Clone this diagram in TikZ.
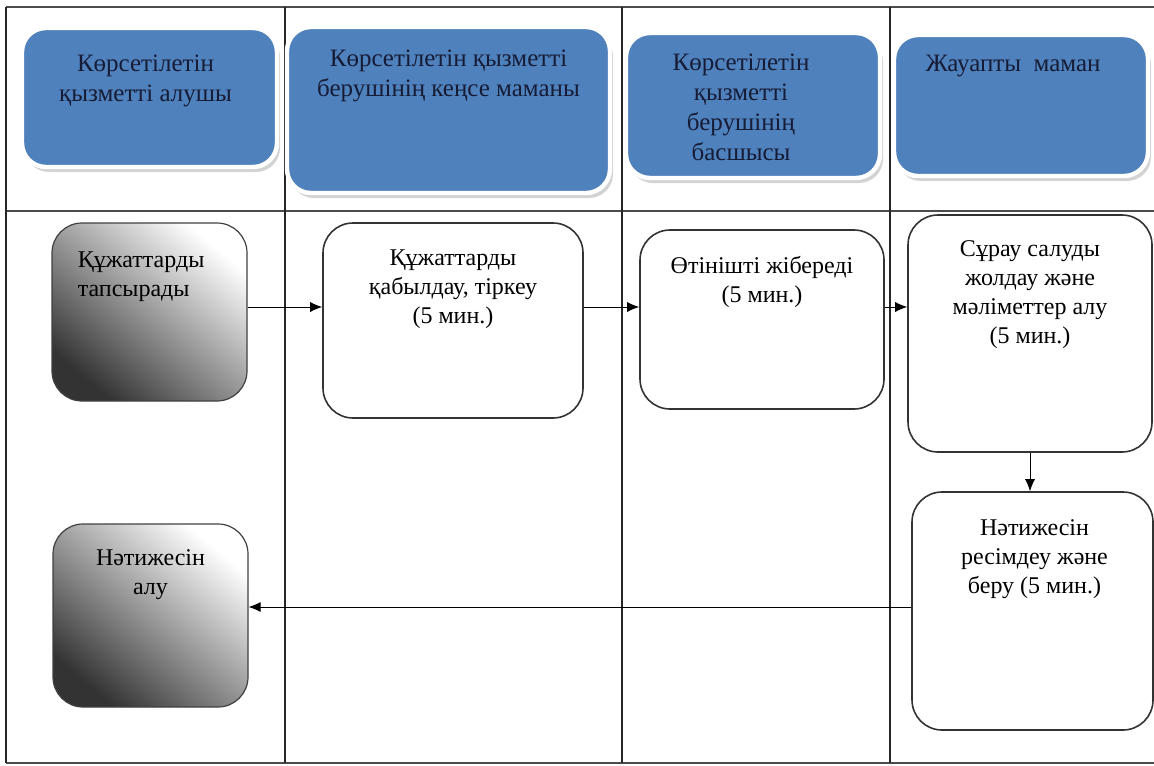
\documentclass[tikz,border=0pt]{standalone}
\usepackage{fontspec}
\setmainfont{Liberation Serif}
\usetikzlibrary{positioning, arrows.meta, shadows}

\definecolor{hblue}{RGB}{79,129,189}
\definecolor{hink}{RGB}{22,28,54}

\tikzset{
	hdr/.style={rounded corners=12pt, fill=hblue, draw=white, line width=2.2pt,
		drop shadow={shadow xshift=1.5pt, shadow yshift=-2.5pt, opacity=0.35}},
	htxt/.style={align=center, inner sep=0pt, text=hink, font=\fontsize{12.5}{15}\selectfont},
	pbox/.style={draw=black!80, line width=0.8pt, rounded corners=15pt, fill=white},
	gbox/.style={draw=black!75, line width=0.6pt, rounded corners=15pt,
		top color=white, bottom color=black!80, shading angle=-40},
	btxt/.style={align=center, inner sep=0pt},
	lane/.style={line width=0.8pt, black!85}
}

\begin{document}
\begin{tikzpicture}[x=0.5pt,y=-0.5pt,>={Latex[length=6pt,width=5pt]},
		font=\fontsize{12}{14.5}\selectfont]
			\useasboundingbox (0,0) rectangle (1154,765);
			% swimlanes
			\draw[lane, line width=1pt, black!70] (6,7) -- (1154,7) (6,211) -- (1154,211) (6,763) -- (1154,763);
			\draw[lane] (6,7) -- (6,763) (285,7) -- (285,763) (622,7) -- (622,763) (890,7) -- (890,763);
			% lane heads
			\node[hdr, minimum width=127.5pt, minimum height=69.5pt] (h1) at (149.5,97.5) {};
			\node[hdr, minimum width=161.5pt, minimum height=83pt]   (h2) at (448.5,110)  {};
			\node[hdr, minimum width=127pt,   minimum height=72.5pt] (h3) at (753,105.5)  {};
			\node[hdr, minimum width=127pt,   minimum height=70.5pt] (h4) at (1021,105.5) {};
			\node[htxt, below=14.5pt of h1.north, xshift=-2pt] (t1) {Көрсетілетін\\қызметті алушы};
			\node[htxt, below=12.5pt of h2.north] (t2) {Көрсетілетін қызметті\\берушінің кеңсе маманы};
			\node[htxt, below=11.5pt of h3.north, xshift=-6pt] (t3) {Көрсетілетін\\қызметті\\берушінің\\басшысы};
			\node[htxt, below=11pt of h4.north, xshift=-4pt] (t4) {Жауапты~~маман};
			% steps
			\node[gbox, minimum width=97.5pt, minimum height=89pt]   (n1) at (149.5,312)  {};
			\node[pbox, minimum width=130pt,  minimum height=97.5pt] (n2) at (453,320.5)  {};
			\node[pbox, minimum width=122pt,  minimum height=89.5pt] (n3) at (762,319.5)  {};
			\node[pbox, minimum width=122pt,  minimum height=118.5pt] (n4) at (1030,333.5) {};
			\node[pbox, minimum width=120.5pt, minimum height=119pt] (n5) at (1032.5,611) {};
			\node[gbox, minimum width=97.5pt, minimum height=91.5pt] (n6) at (150.5,615.5) {};
			\node[btxt, align=left, anchor=north west] (s1) at ([xshift=13pt,yshift=-14.5pt]n1.north west) {Құжаттарды\\тапсырады};
			\node[btxt, below=13.5pt of n2.north] (s2) {Құжаттарды\\қабылдау, тіркеу\\(5 мин.)};
			\node[btxt, below=13.5pt of n3.north] (s3) {Өтінішті жібереді\\(5 мин.)};
			\node[btxt, below=13pt of n4.north] (s4) {Сұрау салуды\\жолдау және\\мәліметтер алу\\(5 мин.)};
			\node[btxt, below=14pt of n5.north, xshift=1pt] (s5) {Нәтижесін\\ресімдеу және\\беру (5 мин.)};
			\node[btxt, below=13pt of n6.north] (s6) {Нәтижесін\\алу};
			% flow
			\coordinate (r1) at (0,307);
			\coordinate (r2) at (0,607);
			\draw[->] (n1.east |- r1) -- (n2.west |- r1);
			\draw[->] (n2.east |- r1) -- (n3.west |- r1);
			\draw[->] (n3.east |- r1) -- (n4.west |- r1);
			\draw[->] (n4.south) -- (n4.south |- n5.north);
			\draw[->] (n5.west |- r2) -- (n6.east |- r2);
\end{tikzpicture}
\end{document}
